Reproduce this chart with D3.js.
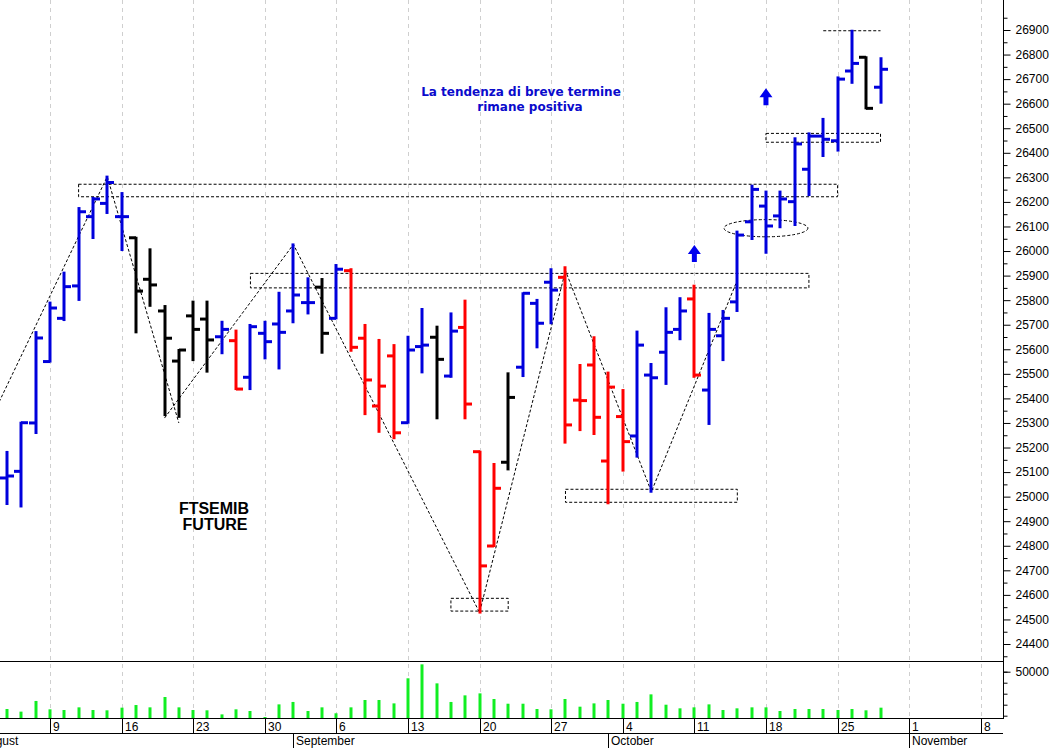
<!DOCTYPE html>
<html><head><meta charset="utf-8">
<script src="https://cdn.jsdelivr.net/npm/d3@7"></script>
<style>html,body{margin:0;padding:0;background:#fff;overflow:hidden;} svg{display:block;}</style>
</head><body>
<svg id="c" width="1052" height="748"></svg>
<script>
// ---- DATA ----
const dates = ["2021-08-04","2021-08-05","2021-08-06",
"2021-08-09","2021-08-10","2021-08-11","2021-08-12","2021-08-13",
"2021-08-16","2021-08-17","2021-08-18","2021-08-19","2021-08-20",
"2021-08-23","2021-08-24","2021-08-25","2021-08-26","2021-08-27",
"2021-08-30","2021-08-31","2021-09-01","2021-09-02","2021-09-03",
"2021-09-06","2021-09-07","2021-09-08","2021-09-09","2021-09-10",
"2021-09-13","2021-09-14","2021-09-15","2021-09-16","2021-09-17",
"2021-09-20","2021-09-21","2021-09-22","2021-09-23","2021-09-24",
"2021-09-27","2021-09-28","2021-09-29","2021-09-30","2021-10-01",
"2021-10-04","2021-10-05","2021-10-06","2021-10-07","2021-10-08",
"2021-10-11","2021-10-12","2021-10-13","2021-10-14","2021-10-15",
"2021-10-18","2021-10-19","2021-10-20","2021-10-21","2021-10-22",
"2021-10-25","2021-10-26","2021-10-27","2021-10-28"];
const openP  = [25076,25103,25300,25550,25726,25858,26140,26194,26140,26054,25885,25756,25552,25736,25723,25651,25635,25486,25665,25703,25756,25790,25853,25726,25920,25645,25369,25573,25301,25611,25649,25491,25689,25183,24799,25140,25527,25787,25873,25893,25393,25536,25145,25326,25247,25495,25588,25681,25805,25434,25655,25793,26119,26183,26143,26201,26333,26468,26449,26733,26789,26667];
const highP  = [25182,25301,25670,25790,25912,26175,26216,26303,26236,26054,26007,25776,25597,25794,25794,25712,25676,25699,25712,25830,26027,25889,25886,25943,25926,25699,25638,25617,25651,25764,25692,25746,25798,25183,25133,25502,25828,25801,25926,25934,25536,25649,25505,25434,25672,25540,25767,25808,25859,25744,25756,26079,26266,26242,26242,26459,26479,26538,26707,26897,26789,26785];
const lowP   = [24970,24960,25259,25550,25719,25801,26053,26155,26004,25669,25777,25332,25325,25556,25509,25584,25438,25438,25563,25522,25710,25746,25586,25726,25594,25336,25264,25238,25301,25506,25319,25488,25319,24528,24799,25111,25491,25608,25706,25220,25271,25255,24973,25106,25163,25020,25459,25641,25488,25296,25556,25756,26049,25993,26097,26106,26228,26387,26409,26685,26581,26604];
const closeP = [25084,25301,25646,25768,25855,26160,26212,26279,26140,25837,25862,25645,25597,25681,25638,25681,25438,25692,25631,25669,25821,25790,25665,25926,25608,25475,25450,25260,25597,25617,25559,25674,25377,24718,25034,25404,25828,25706,25841,25292,25391,25323,25446,25224,25617,25484,25669,25756,25495,25681,25726,26065,26251,26102,26212,26436,26468,26455,26700,26764,26581,26740];
const barTone = ["b","b","b","b","b","b","b","b","b","k","k","k","k","k","k","b","r","b","b","b","b","b","k","b","r","r","r","r","b","b","k","b","r","r","r","k","b","b","b","r","r","r","r","r","b","b","b","b","r","b","b","b","b","b","b","b","b","b","b","b","k","b"];
const volume = [16100,13700,23400,15800,15200,17600,15200,14900,17300,19700,17600,27000,17600,15200,14900,11200,15800,14300,8800,20300,22500,14300,17600,12200,17600,24300,24300,21200,44000,56700,39400,22500,28500,30300,25200,20900,20900,16100,15800,25200,18200,21200,24300,20900,22500,29400,20000,16700,17600,20300,15200,16700,17600,17600,14300,16100,16100,16100,15200,16100,14900,17300];

const priceTicks = d3.range(24400, 26901, 100);
const volumeTicks = [10000,20000,30000,40000,50000];
const weekTicks = ["2021-08-09","2021-08-16","2021-08-23","2021-08-30","2021-09-06","2021-09-13","2021-09-20","2021-09-27","2021-10-04","2021-10-11","2021-10-18","2021-10-25","2021-11-01","2021-11-08"];
const monthTicks = ["2021-08-02","2021-09-01","2021-10-01","2021-11-01"];
const monthNames = ["August","September","October","November"];

// annotations
const zigzagA = [["2021-08-03",25331],["2021-08-13",26303],["2021-08-20",25300]];
const zigzagB = [["2021-08-19",25320],["2021-09-01",26027],["2021-09-20",24528],["2021-09-28",25920],["2021-10-06",25020],["2021-10-14",25882]];
const boxes = [
  ["2021-08-11","2021-10-25",26272,26221],
  ["2021-08-27","2021-10-21",25909,25850],
  ["2021-09-16","2021-09-22",24586,24534],
  ["2021-09-28","2021-10-14",25030,24977],
  ["2021-10-18","2021-10-28",26479,26443]
];
const topLine = ["2021-10-22","2021-10-28",26897];
const ellipseNote = ["2021-10-18",26093,2.93,35];
const arrows = [["2021-10-18",26663],["2021-10-11",26025]];
const noteText = ["La tendenza di breve termine","rimane positiva"];
const titleText = ["FTSEMIB","FUTURE"];

// ---- HELPERS ----
const t0 = Date.UTC(2021,7,4);
function tIdx(s){
  const [y,m,d]=s.split("-").map(Number);
  const t=Date.UTC(y,m-1,d);
  const a=Math.min(t,t0), b=Math.max(t,t0);
  let n=0;
  for(let u=a;u<b;u+=864e5){const wd=new Date(u).getUTCDay(); if(wd!==0&&wd!==6) n++;}
  return t>=t0?n:-n;
}

// ---- LAYOUT ----
const AX = 1003, PB = 661, VB = 718, DB = 733, H = 748;
const x = d3.scaleLinear().domain([0,1]).range([7,21.32]);
const y = d3.scaleLinear().domain([24400,26900]).range([644,30]);
const yv = d3.scaleLinear().domain([10000,50000]).range([715.7,671.7]);
const colors = {b:"#0000dc", r:"#ff0000", k:"#000000"};

const svg = d3.select("#c");
const font = "'Liberation Sans', Arial, sans-serif";

// gridlines
svg.append("g").selectAll("line").data(weekTicks).join("line")
  .attr("x1",d=>Math.round(x(tIdx(d)))+0.5).attr("x2",d=>Math.round(x(tIdx(d)))+0.5)
  .attr("y1",0).attr("y2",VB)
  .attr("stroke","#cfcfcf").attr("stroke-dasharray","4,4").attr("stroke-width",1);

// annotations
const ann = svg.append("g").attr("fill","none").attr("stroke","#000").attr("stroke-width",1).attr("stroke-dasharray","3,2");
const lineGen = d3.line().x(d=>x(tIdx(d[0]))).y(d=>y(d[1]));
ann.append("path").attr("d",lineGen(zigzagA));
ann.append("path").attr("d",lineGen(zigzagB));
ann.selectAll("rect").data(boxes).join("rect")
  .attr("x",d=>x(tIdx(d[0]))).attr("y",d=>y(d[2]))
  .attr("width",d=>x(tIdx(d[1]))-x(tIdx(d[0]))).attr("height",d=>y(d[3])-y(d[2]));
ann.append("line").attr("x1",x(tIdx(topLine[0]))).attr("x2",x(tIdx(topLine[1])))
  .attr("y1",y(topLine[2])).attr("y2",y(topLine[2]));
{
  const ci = tIdx(ellipseNote[0]);
  ann.append("ellipse").attr("cx",x(ci)).attr("cy",y(ellipseNote[1]))
    .attr("rx",x(ci+ellipseNote[2])-x(ci)).attr("ry",y(ellipseNote[1]-ellipseNote[3])-y(ellipseNote[1]));
}

// price bars
const bars = svg.append("g").attr("stroke-width",3).attr("fill","none");
dates.forEach((d,i)=>{
  const cx = Math.round(x(tIdx(d)));
  const c = colors[barTone[i]];
  const g = bars.append("g").attr("stroke",c);
  g.append("line").attr("x1",cx).attr("x2",cx).attr("y1",y(highP[i])-1).attr("y2",y(lowP[i])+1);
  g.append("line").attr("x1",cx-7).attr("x2",cx).attr("y1",y(openP[i])).attr("y2",y(openP[i]));
  g.append("line").attr("x1",cx).attr("x2",cx+7).attr("y1",y(closeP[i])).attr("y2",y(closeP[i]));
});

// arrows
svg.append("g").selectAll("path").data(arrows).join("path")
  .attr("fill","#0000ee")
  .attr("d",d=>{
    const ax = x(tIdx(d[0])), ay = y(d[1]);
    return `M${ax},${ay} L${ax+6.5},${ay+9} L${ax+2.5},${ay+9} L${ax+2.5},${ay+17} L${ax-2.5},${ay+17} L${ax-2.5},${ay+9} L${ax-6.5},${ay+9} Z`;
  });

// texts
svg.append("text").attr("x",521).attr("y",96).attr("text-anchor","middle")
  .attr("font-family","'DejaVu Sans', Verdana, sans-serif").attr("font-weight","bold").attr("font-size",12)
  .attr("fill","#0a0acc").text(noteText[0]);
svg.append("text").attr("x",530).attr("y",111).attr("text-anchor","middle")
  .attr("font-family","'DejaVu Sans', Verdana, sans-serif").attr("font-weight","bold").attr("font-size",12)
  .attr("fill","#0a0acc").text(noteText[1]);
svg.append("text").attr("x",214).attr("y",514).attr("text-anchor","middle")
  .attr("font-family",font).attr("font-weight","bold").attr("font-size",16)
  .attr("fill","#000").text(titleText[0]);
svg.append("text").attr("x",215).attr("y",529.5).attr("text-anchor","middle")
  .attr("font-family",font).attr("font-weight","bold").attr("font-size",16)
  .attr("fill","#000").text(titleText[1]);

// volume bars
svg.append("g").selectAll("line").data(volume).join("line")
  .attr("x1",(v,i)=>Math.round(x(tIdx(dates[i])))).attr("x2",(v,i)=>Math.round(x(tIdx(dates[i]))))
  .attr("y1",v=>yv(v)).attr("y2",VB)
  .attr("stroke","#11ee22").attr("stroke-width",3);

// frame lines
const fr = svg.append("g").attr("stroke","#000").attr("stroke-width",1);
fr.append("line").attr("x1",0).attr("x2",AX).attr("y1",PB+0.5).attr("y2",PB+0.5);
fr.append("line").attr("x1",0).attr("x2",AX).attr("y1",VB+0.5).attr("y2",VB+0.5);
fr.append("line").attr("x1",0).attr("x2",AX).attr("y1",DB+0.5).attr("y2",DB+0.5);
fr.append("line").attr("x1",AX+0.5).attr("x2",AX+0.5).attr("y1",0).attr("y2",VB+1);

// price axis (right)
const pAxis = d3.axisRight(y).tickValues(priceTicks).tickSize(7).tickPadding(5).tickFormat(d3.format("d"));
const pg = svg.append("g").attr("transform",`translate(${AX+0.5},0)`).call(pAxis);
pg.select(".domain").remove();
pg.selectAll("text").attr("font-family",font).attr("font-size",12).attr("fill","#000");
const minorP = d3.range(24350, 27000, 100);
svg.append("g").attr("transform",`translate(${AX+0.5},0)`).call(d3.axisRight(y).tickValues(minorP).tickSize(4).tickFormat(""))
  .select(".domain").remove();

// volume axis
const vAxis = d3.axisRight(yv).tickValues(volumeTicks).tickSize(4).tickFormat("");
const vg = svg.append("g").attr("transform",`translate(${AX+0.5},0)`).call(vAxis);
vg.select(".domain").remove();
const vg2 = svg.append("g").attr("transform",`translate(${AX+0.5},0)`)
  .call(d3.axisRight(yv).tickValues([50000]).tickSize(7).tickPadding(5).tickFormat(d3.format("d")));
vg2.select(".domain").remove();
vg2.selectAll("text").attr("font-family",font).attr("font-size",12).attr("fill","#000");

// date row
const dr = svg.append("g");
dr.selectAll("line").data(weekTicks).join("line")
  .attr("x1",d=>Math.round(x(tIdx(d)))+0.5).attr("x2",d=>Math.round(x(tIdx(d)))+0.5)
  .attr("y1",VB).attr("y2",DB).attr("stroke","#000");
dr.selectAll("text").data(weekTicks).join("text")
  .attr("x",d=>Math.round(x(tIdx(d)))+3).attr("y",DB-2)
  .attr("font-family",font).attr("font-size",12).attr("fill","#000")
  .text(d=>String(+d.split("-")[2]));
const mr = svg.append("g");
mr.selectAll("line").data(monthTicks).join("line")
  .attr("x1",d=>Math.round(x(tIdx(d)))+0.5).attr("x2",d=>Math.round(x(tIdx(d)))+0.5)
  .attr("y1",DB).attr("y2",H).attr("stroke","#000");
mr.selectAll("text").data(monthTicks).join("text")
  .attr("x",d=>Math.round(x(tIdx(d)))+3).attr("y",H-3)
  .attr("font-family",font).attr("font-size",12).attr("fill","#000")
  .text((d,i)=>monthNames[i]);
</script>
</body></html>
